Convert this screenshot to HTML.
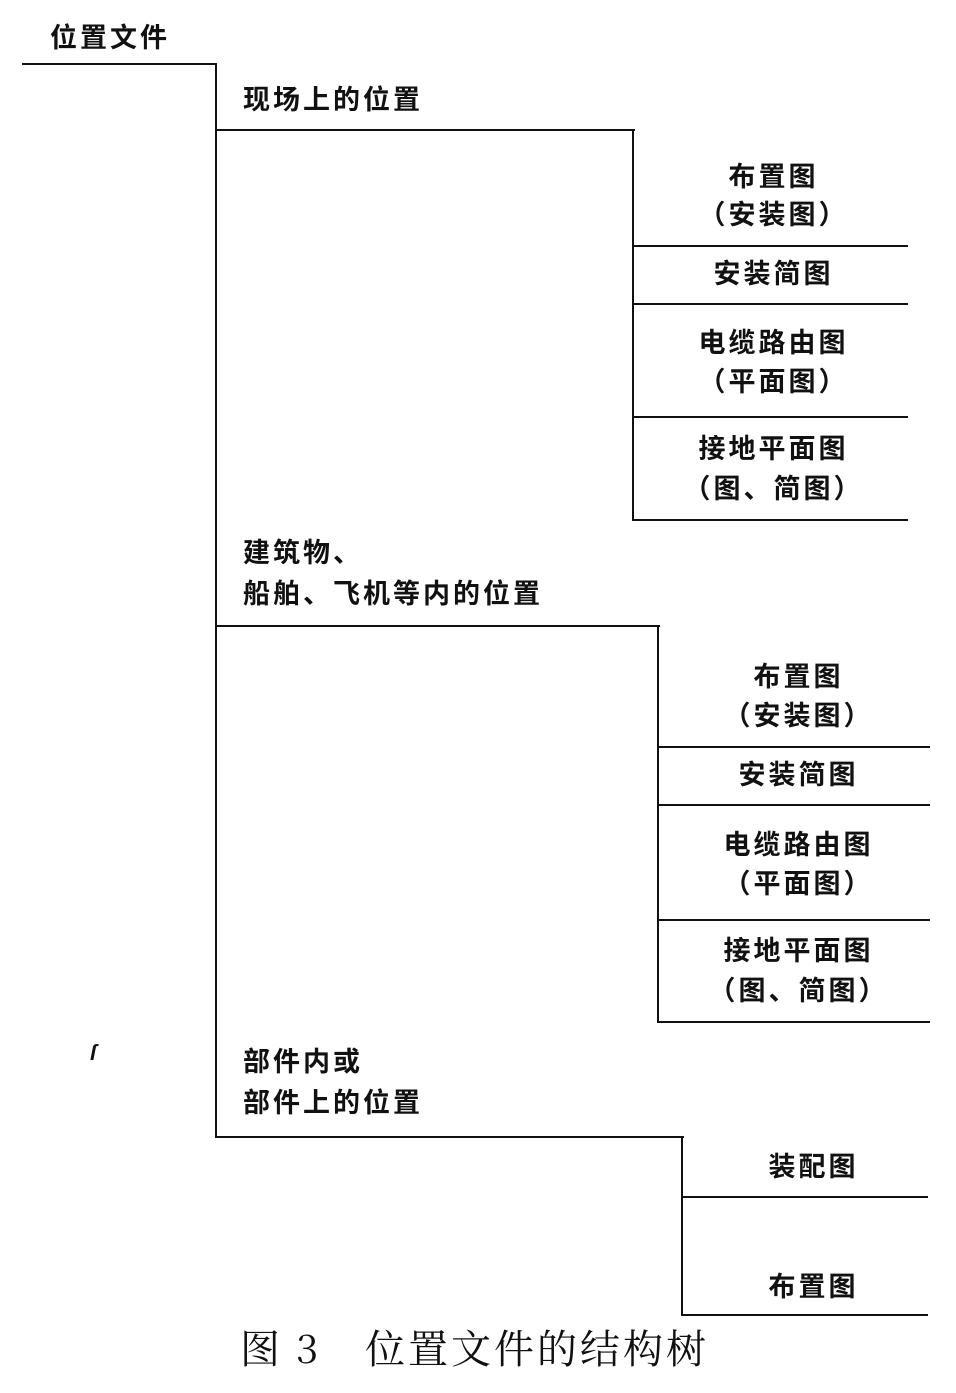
<!DOCTYPE html>
<html><head><meta charset="utf-8"><style>
body{margin:0;width:956px;height:1393px;background:#fff;position:relative;overflow:hidden;font-family:"Liberation Sans","Noto Sans CJK SC",sans-serif;}
.h{position:absolute;height:2px;background:#111;}
.v{position:absolute;width:2px;background:#111;}
.t{position:absolute;font-size:27px;font-weight:bold;color:#111;line-height:1;white-space:nowrap;letter-spacing:3px;}
.c{position:absolute;font-size:27px;font-weight:bold;color:#111;line-height:1;white-space:nowrap;transform:translateX(-50%);letter-spacing:3px;padding-left:3px;}
.cap{position:absolute;font-size:40px;color:#111;line-height:1;white-space:nowrap;font-family:'Noto Serif CJK SC','Liberation Serif',serif;}
</style></head><body>
<div class="h" style="left:22px;top:63px;width:195px"></div>
<div class="v" style="left:215px;top:63px;height:1075px"></div>
<div class="t" style="left:50px;top:25px">位置文件</div>

<div class="t" style="left:243px;top:87px">现场上的位置</div>
<div class="h" style="left:215px;top:129px;width:420px"></div>
<div class="v" style="left:632px;top:129px;height:392px"></div>
<div class="h" style="left:632px;top:245px;width:276px"></div>
<div class="h" style="left:632px;top:303px;width:276px"></div>
<div class="h" style="left:632px;top:416px;width:276px"></div>
<div class="h" style="left:632px;top:519px;width:276px"></div>
<div class="c" style="left:772px;top:164px">布置图</div>
<div class="c" style="left:772px;top:202px">（安装图）</div>
<div class="c" style="left:772px;top:261px">安装简图</div>
<div class="c" style="left:772px;top:330px">电缆路由图</div>
<div class="c" style="left:772px;top:369px">（平面图）</div>
<div class="c" style="left:772px;top:436px">接地平面图</div>
<div class="c" style="left:772px;top:476px">（图、简图）</div>

<div class="t" style="left:243px;top:540px">建筑物、</div>
<div class="t" style="left:243px;top:581px">船舶、飞机等内的位置</div>
<div class="h" style="left:215px;top:625px;width:445px"></div>
<div class="v" style="left:657px;top:625px;height:398px"></div>
<div class="h" style="left:657px;top:746px;width:273px"></div>
<div class="h" style="left:657px;top:804px;width:273px"></div>
<div class="h" style="left:657px;top:919px;width:273px"></div>
<div class="h" style="left:657px;top:1021px;width:273px"></div>
<div class="c" style="left:797px;top:664px">布置图</div>
<div class="c" style="left:797px;top:703px">（安装图）</div>
<div class="c" style="left:797px;top:762px">安装简图</div>
<div class="c" style="left:797px;top:832px">电缆路由图</div>
<div class="c" style="left:797px;top:871px">（平面图）</div>
<div class="c" style="left:797px;top:938px">接地平面图</div>
<div class="c" style="left:797px;top:978px">（图、简图）</div>

<div class="t" style="left:90px;top:1042px;font-size:22px;font-style:italic">ſ</div>
<div class="t" style="left:243px;top:1049px">部件内或</div>
<div class="t" style="left:243px;top:1090px">部件上的位置</div>
<div class="h" style="left:215px;top:1136px;width:469px"></div>
<div class="v" style="left:681px;top:1136px;height:180px"></div>
<div class="h" style="left:681px;top:1196px;width:247px"></div>
<div class="h" style="left:681px;top:1314px;width:247px"></div>
<div class="c" style="left:812px;top:1154px">装配图</div>
<div class="c" style="left:812px;top:1274px">布置图</div>

<div class="cap" style="left:240px;top:1327px">图</div>
<div class="cap" style="left:296px;top:1327px">3</div>
<div class="cap" style="left:365px;top:1327px;letter-spacing:3px">位置文件的结构树</div>
</body></html>
